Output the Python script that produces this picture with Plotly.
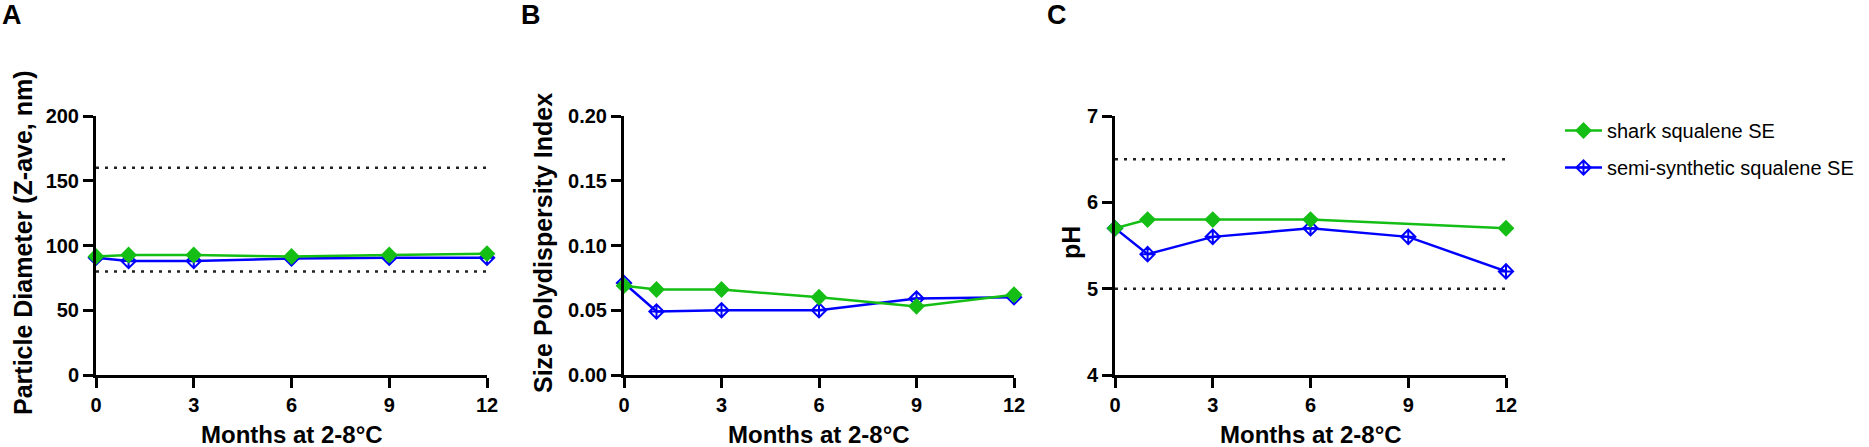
import plotly.graph_objects as go

W, H = 1869, 447
FONT = "Liberation Sans, Arial, sans-serif"

months = [0, 1, 3, 6, 9, 12]
x_ticks = [0, 3, 6, 9, 12]

series_names = ["shark squalene SE", "semi-synthetic squalene SE"]

# panel A - particle diameter (Z-ave, nm)
size_shark = [91.5, 92.7, 92.7, 91.5, 92.7, 93.7]
size_semi = [90.5, 88.0, 88.0, 90.0, 90.5, 90.5]
size_limits = [80, 160]

# panel B - polydispersity index
pdi_shark = [0.069, 0.066, 0.066, 0.060, 0.053, 0.062]
pdi_semi = [0.071, 0.049, 0.050, 0.050, 0.059, 0.060]

# panel C - pH (no shark value shown at month 9)
ph_shark = [5.7, 5.8, 5.8, 5.8, None, 5.7]
ph_semi = [5.7, 5.4, 5.6, 5.7, 5.6, 5.2]
ph_limits = [5.0, 6.5]

GREEN = "#14BE14"
BLUE = "#0000FF"


def px_x(p):
    return p / W


def px_y(p):
    return 1 - p / H


fig = go.Figure()

panels = [
    ("", size_shark, size_semi),
    ("2", pdi_shark, pdi_semi),
    ("3", ph_shark, ph_semi),
]

for i, (ax, shark, semi) in enumerate(panels):
    fig.add_trace(go.Scatter(
        x=months, y=semi, name=series_names[1], mode="lines+markers",
        xaxis="x" + ax, yaxis="y" + ax, cliponaxis=False,
        line=dict(color=BLUE, width=2.5),
        marker=dict(symbol="diamond-cross-open", size=11, color=BLUE, line=dict(width=2, color=BLUE)),
        showlegend=(i == 0), legendrank=2, legendgroup="semi",
    ))
    fig.add_trace(go.Scatter(
        x=months, y=shark, name=series_names[0], mode="lines+markers",
        xaxis="x" + ax, yaxis="y" + ax, cliponaxis=False, connectgaps=True,
        line=dict(color=GREEN, width=2.5),
        marker=dict(symbol="diamond", size=13, color=GREEN),
        showlegend=(i == 0), legendrank=1, legendgroup="shark",
    ))

# dotted specification limits
for ax, limits in [("", size_limits), ("3", ph_limits)]:
    for v in limits:
        fig.add_shape(type="line", xref="x" + ax, yref="y" + ax,
                      x0=months[0], x1=months[-1], y0=v, y1=v,
                      line=dict(color="#222222", width=2.5, dash="3px,6px"), layer="below")

domains_px = [(96, 487), (624, 1014), (1115, 1506)]
y_dom = [px_y(375), px_y(116)]

tickfont = dict(family=FONT, size=20, color="black", weight="bold")
common_axis = dict(showline=True, linewidth=3, linecolor="black", ticks="outside",
                   ticklen=10, tickwidth=2.5, tickcolor="black", showgrid=False,
                   zeroline=False, tickfont=tickfont, fixedrange=True, automargin=False)

y_specs = [
    dict(range=[0, 200], tickvals=[0, 50, 100, 150, 200]),
    dict(range=[0, 0.2], tickvals=[0, 0.05, 0.10, 0.15, 0.20], tickformat=".2f"),
    dict(range=[4, 7], tickvals=[4, 5, 6, 7]),
]

layout_axes = {}
for i, (d, ys) in enumerate(zip(domains_px, y_specs)):
    suffix = "" if i == 0 else str(i + 1)
    layout_axes["xaxis" + suffix] = dict(
        domain=[px_x(d[0]), px_x(d[1])], range=[0, 12], tickvals=x_ticks,
        anchor="y" + suffix, **common_axis)
    layout_axes["yaxis" + suffix] = dict(
        domain=y_dom, anchor="x" + suffix, **ys, **common_axis)

annotations = []
# panel letters
for letter, cx in [("A", 11.5), ("B", 531), ("C", 1057)]:
    annotations.append(dict(text=letter, x=px_x(cx), y=px_y(15), xref="paper", yref="paper",
                            xanchor="center", yanchor="middle", showarrow=False,
                            font=dict(family=FONT, size=27, color="black", weight="bold")))
# x titles
for d in domains_px:
    annotations.append(dict(text="Months at 2-8°C", x=px_x((d[0] + d[1]) / 2), y=px_y(434),
                            xref="paper", yref="paper", xanchor="center", yanchor="middle",
                            showarrow=False,
                            font=dict(family=FONT, size=24, color="black", weight="bold")))
# y titles
for text, cx in [("Particle Diameter (Z-ave, nm)", 23), ("Size Polydispersity Index", 543), ("pH", 1071)]:
    annotations.append(dict(text=text, x=px_x(cx), y=px_y(243), xref="paper", yref="paper",
                            xanchor="center", yanchor="middle", showarrow=False, textangle=-90,
                            font=dict(family=FONT, size=25, color="black", weight="bold")))

fig.update_layout(
    width=W, height=H,
    margin=dict(l=0, r=0, t=0, b=0),
    paper_bgcolor="white", plot_bgcolor="white",
    font=dict(family=FONT, color="black"),
    annotations=annotations,
    legend=dict(x=px_x(1560), y=px_y(111), xanchor="left", yanchor="top",
                font=dict(family=FONT, size=20, color="black"),
                itemwidth=37, tracegroupgap=8,
                bgcolor="rgba(0,0,0,0)"),
    **layout_axes,
)

# page body has a default margin; remove it so the figure fills the window exactly
fig.write_html("out.html", config={"displayModeBar": False},
               post_script="document.body.style.margin='0';document.body.style.overflow='hidden';")
